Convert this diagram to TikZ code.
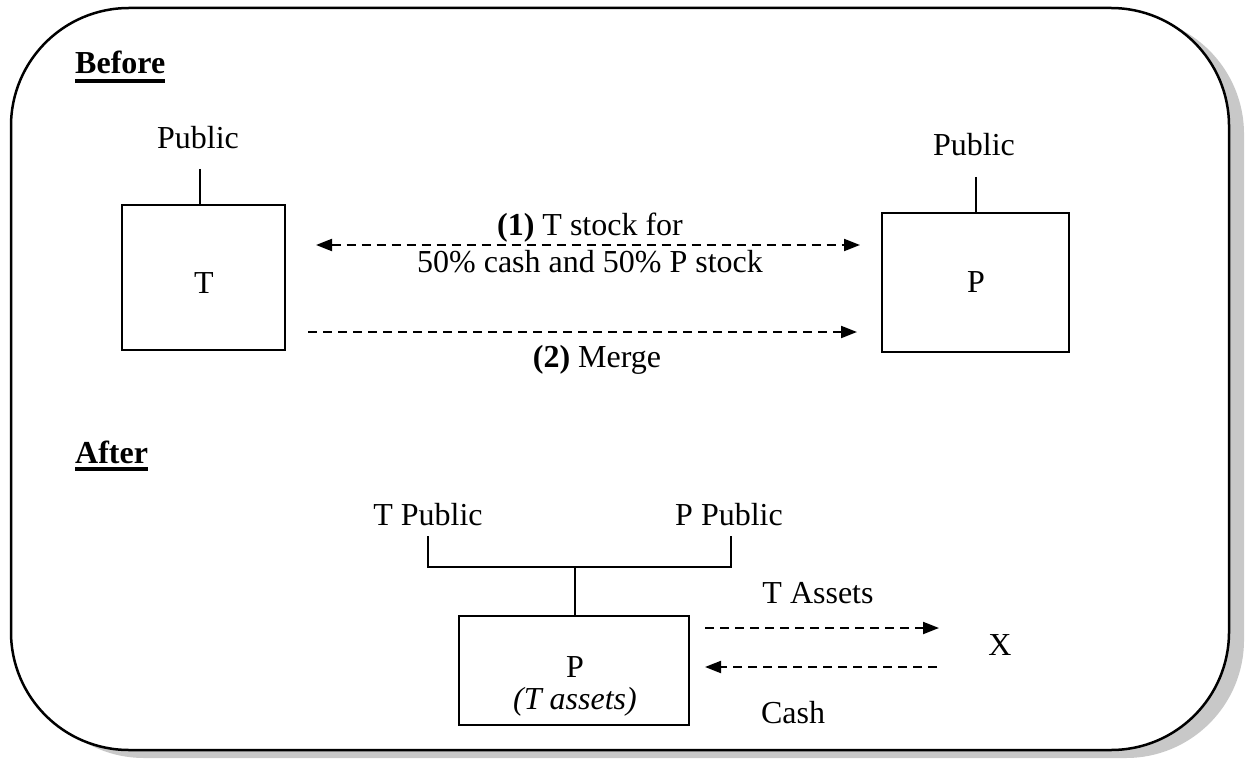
\documentclass[tikz,border=0pt]{standalone}
\usepackage{fontspec}
\setmainfont{Liberation Serif}
\usetikzlibrary{arrows.meta}
\definecolor{shadowgray}{RGB}{200,200,200}
\begin{document}
\begin{tikzpicture}[x=1pt,y=-1pt,
  lbl/.style={font=\fontsize{32}{38}\selectfont, inner sep=0pt},
  head/.style={font=\fontsize{32}{38}\selectfont\bfseries, inner sep=0pt, anchor=base west},
  boxnode/.style={draw, line width=2pt, inner sep=0pt},
  conn/.style={line width=2pt},
  darr/.style={line width=2pt, dash pattern=on 9pt off 6pt, -{Triangle[length=16pt,width=12pt]}},
  ddarr/.style={line width=2pt, dash pattern=on 9pt off 6pt, {Triangle[length=16pt,width=12pt]}-{Triangle[length=16pt,width=12pt]}},
  uline/.style={line width=3.5pt}
]
\useasboundingbox (0,0) rectangle (1246,759);
% frame with shadow
\fill[shadowgray, rounded corners=118pt] (26,16) rectangle (1244,758);
\draw[line width=2.5pt, fill=white, rounded corners=118pt] (11,8) rectangle (1229,750);

% headings
\node[head] (before) at (75,74) {Before};
\draw[uline] ([yshift=-7pt]before.base west) -- ([yshift=-7pt]before.base east);
\node[head] (after) at (75,463) {After};
\draw[uline] ([yshift=-6pt]after.base west) -- ([yshift=-6pt]after.base east);

% Before: T side
\node[boxnode, minimum width=163pt, minimum height=145pt] (tbox) at (203.5,277.5) {};
\node[lbl] (tlbl) at (204,283) {T};
\node[lbl] (tpub) at (198,138) {Public};
\coordinate (ts) at (200,169);
\draw[conn] (ts) -- (ts |- tbox.north);

% Before: P side
\node[boxnode, minimum width=187pt, minimum height=139pt] (pbox) at (975.5,282.5) {};
\node[lbl] (plbl) at (976,282) {P};
\node[lbl] (ppub) at (974,145) {Public};
\coordinate (ps) at (976,177);
\draw[conn] (ps) -- (ps |- pbox.north);

% Before arrows
\coordinate (a1l) at (316,245);
\coordinate (a1r) at (860,245);
\draw[ddarr] (a1l) -- (a1r);
\node[lbl] (l1a) at (590,228) {\textbf{(1)} T stock for};
\node[lbl] (l1b) at (590,262) {50\% cash and 50\% P stock};
\coordinate (a2l) at (308,332);
\coordinate (a2r) at (857,332);
\draw[darr] (a2l) -- (a2r);
\node[lbl] (l2) at (597,360) {\textbf{(2)} Merge};

% After
\node[lbl] (tpub2) at (428,515) {T Public};
\node[lbl] (ppub2) at (729,515) {P Public};
\coordinate (bl) at (428,536);
\coordinate (br) at (731,536);
\coordinate (bm) at (575,567);
\node[boxnode, minimum width=230pt, minimum height=109pt] (nbox) at (574,670.5) {};
\draw[conn] (bl) -- (bl |- bm) -- (br |- bm) -- (br);
\draw[conn] (bm) -- (bm |- nbox.north);
\node[lbl] (nlbl) at (575,667) {P};
\node[lbl] (nsub) at (575,702) {\textit{(T assets)}};

\node[lbl] (x) at (1000,645) {X};
\coordinate (b1l) at (705,628);
\coordinate (b1r) at (939,628);
\draw[darr] (b1l) -- (b1r);
\node[lbl] (tass) at (818,593) {T Assets};
\coordinate (b2r) at (937,667);
\coordinate (b2l) at (705,667);
\draw[darr] (b2r) -- (b2l);
\node[lbl] (cash) at (793,713) {Cash};
\end{tikzpicture}
\end{document}
